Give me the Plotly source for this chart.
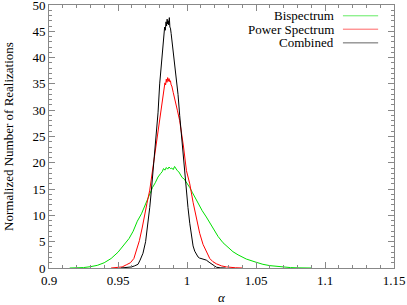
import plotly.graph_objects as go

# ---- data ----
bis_alpha = [0.915,0.920,0.925,0.930,0.935,0.940,0.945,0.950,0.955,0.958,0.961,0.964,0.967,0.970,0.9725,0.975,0.977,0.979,0.981,0.982,0.983,0.984,0.985,0.986,0.987,0.988,0.989,0.990,0.991,0.992,0.993,0.994,0.995,0.9965,0.998,1.000,1.002,1.004,1.0068,1.009,1.011,1.014,1.0165,1.0188,1.0225,1.0261,1.030,1.0333,1.037,1.043,1.050,1.055,1.060,1.065,1.070,1.075,1.080,1.090]
bis_count = [0,0.02,0.08,0.25,0.5,1.0,1.8,3.0,4.5,5.6,7.0,8.9,10.3,12.2,13.6,15.3,16.2,17.3,18.0,18.3,18.9,18.6,19.1,18.8,19.2,18.9,19.0,18.7,19.3,18.8,18.5,18.3,17.9,17.2,16.9,16.2,15.3,14.3,12.9,11.8,10.9,9.7,8.6,7.5,6.0,4.8,3.8,3.1,2.5,1.7,1.1,0.7,0.45,0.3,0.15,0.08,0.03,0]

pow_alpha = [0.945,0.950,0.953,0.956,0.959,0.9615,0.9635,0.9655,0.9675,0.9693,0.971,0.973,0.975,0.9766,0.978,0.979,0.980,0.981,0.982,0.983,0.9835,0.984,0.9845,0.985,0.9855,0.986,0.9865,0.987,0.9875,0.988,0.9885,0.989,0.990,0.991,0.992,0.993,0.9947,0.996,0.9975,0.9996,1.002,1.0044,1.0068,1.0092,1.0116,1.014,1.0165,1.0188,1.0213,1.025,1.0286,1.035,1.040]
pow_count = [0,0.05,0.2,0.6,1.0,1.8,3.4,5.2,7.6,9.7,12.3,14.8,18.5,21.5,24.5,26.2,28.3,30.6,32.3,33.8,34.6,35.2,34.8,35.9,35.3,36.2,35.5,36.0,35.4,35.6,34.8,34.6,33.4,32.4,31.0,30.0,28.0,25.8,23.0,18.5,16.0,12.5,9.5,6.6,4.5,3.0,1.8,1.2,0.8,0.4,0.2,0.05,0]

com_alpha = [0.952,0.956,0.9597,0.962,0.9645,0.966,0.9681,0.970,0.9718,0.973,0.9742,0.9755,0.9766,0.9775,0.9783,0.979,0.9802,0.981,0.9818,0.9826,0.9832,0.9838,0.9843,0.9848,0.9852,0.9856,0.986,0.9864,0.9868,0.9872,0.9876,0.988,0.9885,0.989,0.9899,0.991,0.9923,0.9935,0.9947,0.996,0.9971,0.9983,0.9995,1.0007,1.002,1.0032,1.0044,1.0056,1.0068,1.008,1.009,1.0104,1.012,1.014,1.016,1.0177,1.0195,1.0213,1.024,1.028]
com_count = [0,0.05,0.2,0.4,0.7,1.5,2.8,5.0,8.5,11.5,14.8,18.5,21.8,24.5,27.0,29.5,35.0,37.8,40.5,43.2,44.5,45.8,45.2,46.8,46.0,47.3,46.4,47.0,46.2,47.6,45.8,45.6,44.6,43.5,41.8,39.5,36.5,33.0,29.0,25.0,21.5,18.0,15.0,11.5,8.5,6.0,4.2,3.2,2.5,2.1,1.9,1.8,1.7,1.5,1.1,0.8,0.4,0.15,0.03,0]

series_names = ["Bispectrum", "Power Spectrum", "Combined"]
series_colors = ["#00e000", "#ff0000", "#000000"]

x_tickvals = [0.9, 0.95, 1.0, 1.05, 1.1, 1.15]
x_ticktext = ["0.9", "0.95", "1", "1.05", "1.1", "1.15"]
y_tickvals = [0, 5, 10, 15, 20, 25, 30, 35, 40, 45, 50]

FONT = "Liberation Serif, Times New Roman, DejaVu Serif, serif"

fig = go.Figure()
for xs, ys, name, col in zip([bis_alpha, pow_alpha, com_alpha],
                             [bis_count, pow_count, com_count],
                             series_names, series_colors):
    fig.add_trace(go.Scatter(x=xs, y=ys, mode="lines", name=name,
                             line=dict(color=col, width=1), showlegend=False))

# gnuplot-style legend: right-aligned text with line sample on the right
leg_y = [0.959, 0.908, 0.856]
for name, col, yy in zip(series_names, series_colors, leg_y):
    fig.add_annotation(x=0.829, y=yy, xref="paper", yref="paper", text=name,
                       showarrow=False, xanchor="right", yanchor="middle",
                       borderpad=0,
                       font=dict(family=FONT, size=13, color="black"))
    fig.add_shape(type="line", xref="paper", yref="paper", x0=0.852, x1=0.954,
                  y0=yy, y1=yy, line=dict(color=col, width=1), opacity=0.6)

axis_common = dict(showline=True, linecolor="#888888", linewidth=1, mirror="ticks",
                   ticks="inside", ticklen=6, tickcolor="#888888", tickwidth=1,
                   showgrid=False, zeroline=False, automargin=False,
                   ticklabeloverflow="allow",
                   tickfont=dict(family=FONT, size=13, color="black"))

fig.update_xaxes(range=[0.9, 1.15], tickvals=x_tickvals, ticktext=x_ticktext,
                 minor=dict(ticks="inside", dtick=0.01, tick0=0.9, ticklen=3,
                            tickcolor="#888888", showgrid=False),
                 title=dict(text="<i>α</i>", font=dict(family=FONT, size=13, color="black"),
                            standoff=10),
                 **axis_common)
fig.update_yaxes(range=[0, 50], tickvals=y_tickvals,
                 minor=dict(ticks="inside", dtick=1, tick0=0, ticklen=3,
                            tickcolor="#888888", showgrid=False),
                 title=dict(text="Normalized Number of Realizations",
                            font=dict(family=FONT, size=13, color="black"), standoff=15),
                 **axis_common)

fig.update_layout(width=407, height=305, margin=dict(l=49, r=13, t=5, b=37),
                  plot_bgcolor="white", paper_bgcolor="white",
                  font=dict(family=FONT, size=13, color="black"))

fig.write_html("out.html", config={"displayModeBar": False},
               post_script="document.body.style.margin='0';document.body.style.overflow='hidden';")
